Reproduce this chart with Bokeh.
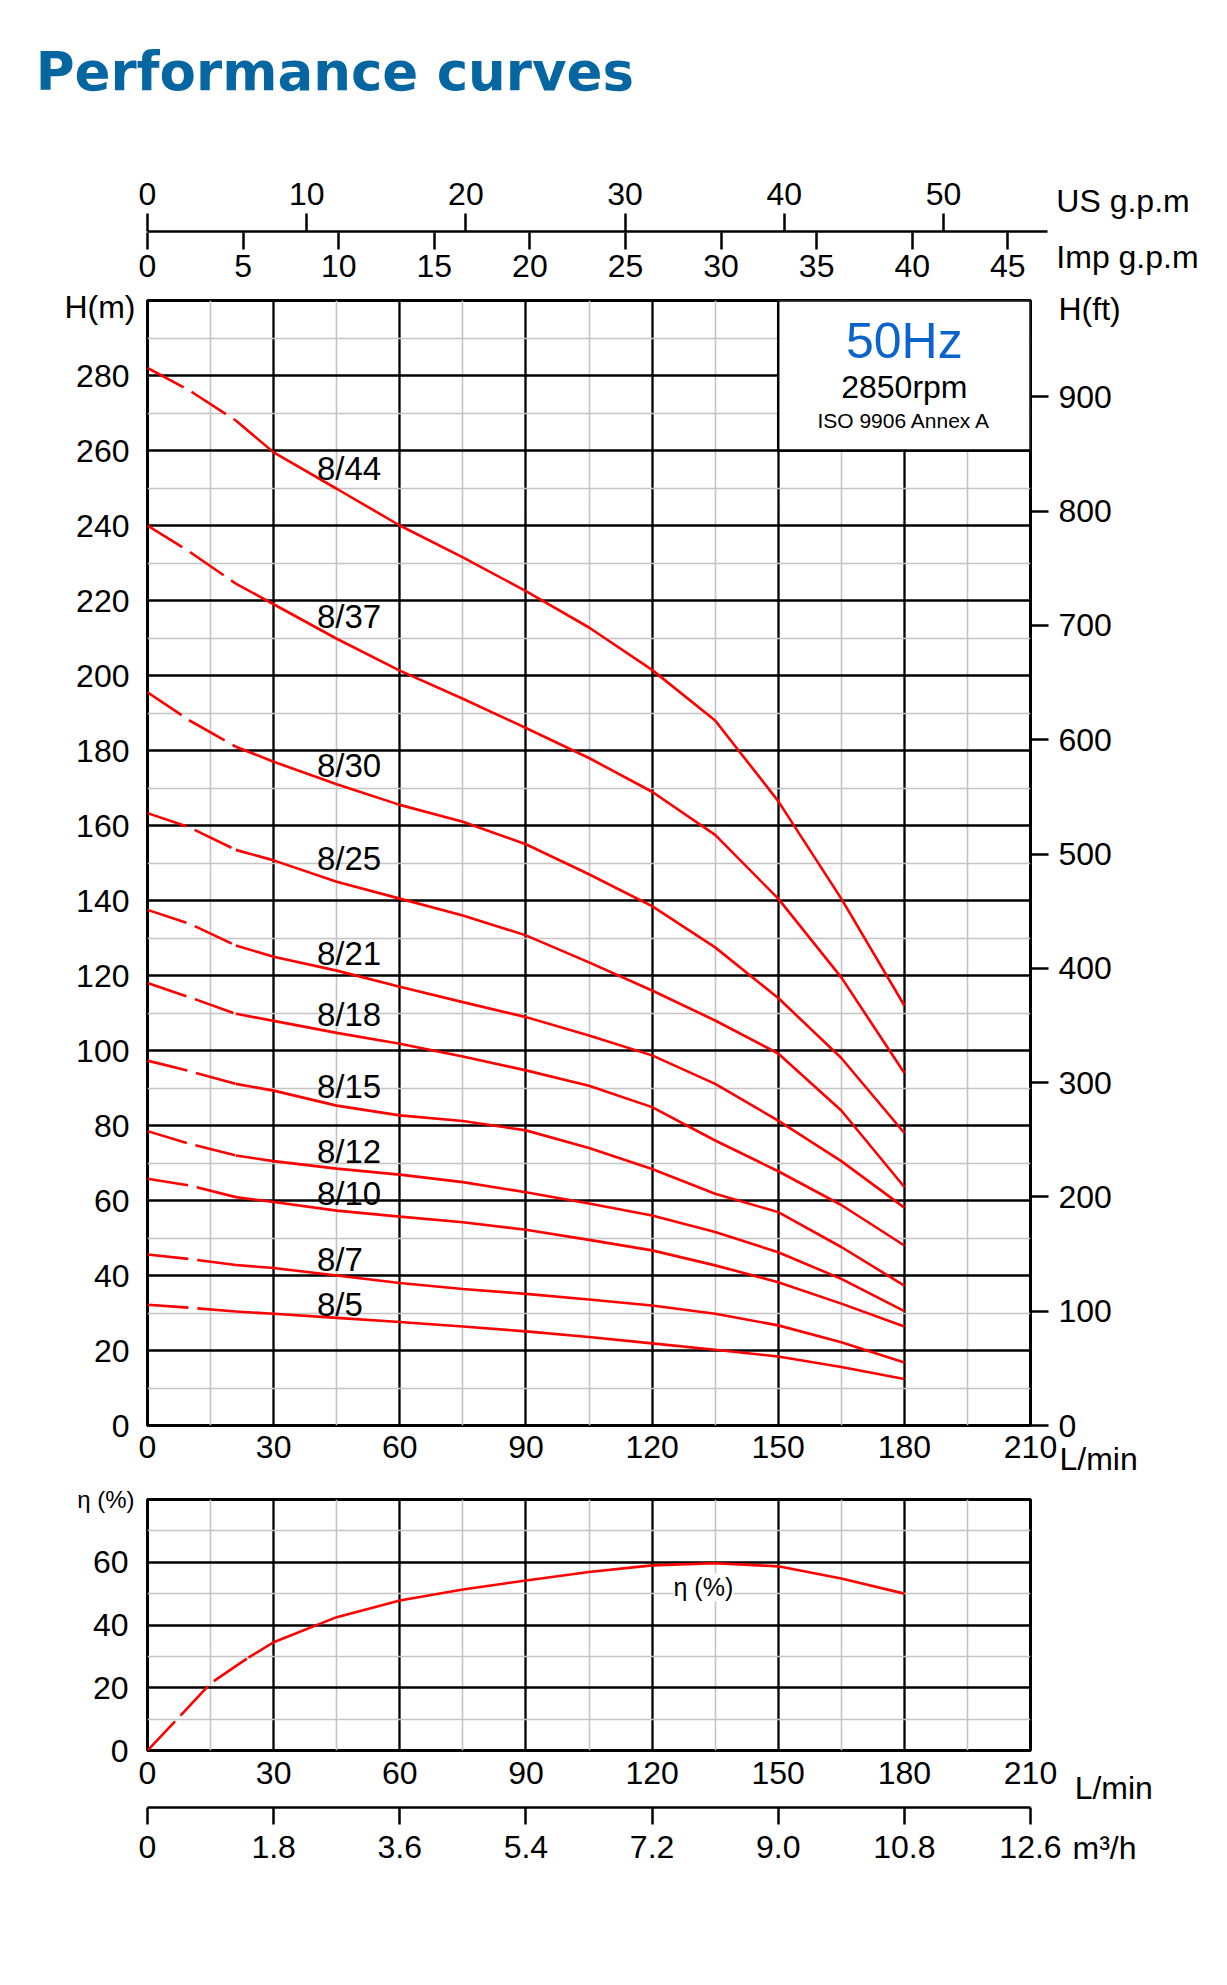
from bokeh.plotting import figure
from bokeh.models import Range1d, LinearAxis, FixedTicker, Label, LabelSet, ColumnDataSource
from bokeh.layouts import column
from bokeh.embed import file_html
from bokeh.resources import INLINE
from bokeh.core.properties import value

FONT = "Liberation Sans"
RED = "#ff0000"

# ---------------- data ----------------
flow = [0, 10, 21, 30, 45, 60, 75, 90, 105, 120, 135, 150, 165, 180]   # L/min
n_dash = 3   # first points (0..21 L/min) are drawn dashed

h_8_44 = [282, 276, 268, 259.5, 249.8, 240, 231.5, 222.5, 212.8, 201.5, 188, 166.5, 140.5, 112]
h_8_37 = [240, 233, 224.5, 219, 209.8, 201.3, 193.8, 186, 178, 169, 157.5, 140.5, 119.5, 94]
h_8_30 = [195.5, 188, 181, 177, 171, 165.5, 161, 155, 147, 138.5, 127.5, 114, 98, 78]
h_8_25 = [163.3, 159.5, 153.5, 150.7, 145, 140.5, 136, 130.7, 123.5, 116, 108, 99.2, 84, 63.6]
h_8_21 = [137.5, 133.8, 128, 125, 121.3, 117, 112.9, 108.9, 104, 98.7, 91.1, 81.3, 70.5, 58.1]
h_8_18 = [118, 114.2, 109.8, 107.9, 104.7, 101.8, 98.4, 94.7, 90.6, 84.9, 76, 67.8, 58.8, 48]
h_8_15 = [97.3, 94.5, 91.1, 89.3, 85.3, 82.7, 81.2, 78.7, 74, 68.4, 61.8, 56.9, 47.6, 37.3]
h_8_12 = [78.5, 75.1, 72, 70.5, 68.5, 66.9, 64.9, 62.2, 59.2, 56, 51.6, 46.2, 39.1, 30.5]
h_8_10 = [65.8, 64, 60.9, 59.6, 57.3, 55.7, 54.2, 52.2, 49.5, 46.7, 42.7, 38.2, 32.5, 26.4]
h_8_7 = [45.6, 44.4, 42.8, 42, 40, 38, 36.4, 35.1, 33.6, 32, 29.8, 26.7, 22.2, 16.8]
h_8_5 = [32.2, 31.4, 30.4, 29.8, 28.7, 27.6, 26.4, 25.1, 23.6, 21.9, 20.2, 18.4, 15.6, 12.4]

models = ["8/44", "8/37", "8/30", "8/25", "8/21", "8/18", "8/15", "8/12", "8/10", "8/7", "8/5"]
heads = [h_8_44, h_8_37, h_8_30, h_8_25, h_8_21, h_8_18, h_8_15, h_8_12, h_8_10, h_8_7, h_8_5]
label_q = [40.3] * len(models)
label_h = [255.3, 215.7, 175.9, 151.1, 126, 109.6, 90.4, 73.1, 62, 44.3, 32.3]

eff_flow = [0, 7.5, 15, 24, 30, 45, 60, 75, 90, 105, 120, 135, 150, 165, 180]
eff = [0, 10.6, 21.4, 29.6, 34.5, 42.5, 47.8, 51.3, 54.2, 56.9, 59, 59.7, 58.7, 54.8, 50]
eff_dash = 4

q_ticks = [0, 30, 60, 90, 120, 150, 180, 210]
q_minor = [15, 45, 75, 105, 135, 165, 195]
h_ticks = [0, 20, 40, 60, 80, 100, 120, 140, 160, 180, 200, 220, 240, 260, 280]
h_minor = [10, 30, 50, 70, 90, 110, 130, 150, 170, 190, 210, 230, 250, 270, 290]
ft_ticks = [0, 100, 200, 300, 400, 500, 600, 700, 800, 900]
ft_title_pos = 977          # where the "H(ft)" caption sits on the ft scale
eff_ticks = [0, 20, 40, 60]
eff_minor = [10, 30, 50, 70]
us_ticks = [0, 10, 20, 30, 40, 50]
imp_ticks = [0, 5, 10, 15, 20, 25, 30, 35, 40, 45]
m3h_ticks = [0, 1.8, 3.6, 5.4, 7.2, 9.0, 10.8, 12.6]
m3h_labels = ["0", "1.8", "3.6", "5.4", "7.2", "9.0", "10.8", "12.6"]

box_q = [150, 210]
box_h = [260, 300]

LMIN_PER_USGPM = 3.785411784
LMIN_PER_IMPGPM = 4.54609
M_PER_FT = 0.3048
TOP_Q_MAX = 214

TS = "32px"
LEFT = 147


def base_fig(**kw):
    return figure(output_backend="svg", toolbar_location=None,
                  background_fill_color="white", border_fill_color="white", **kw)


def style_axis(ax, standoff):
    ax.major_label_text_font = FONT
    ax.major_label_text_font_size = TS
    ax.major_label_text_color = "black"
    ax.minor_tick_line_color = None
    ax.major_label_standoff = standoff


def style_grid(fig, xt, xm, yt, ym):
    fig.xgrid.ticker = FixedTicker(ticks=xt, minor_ticks=xm)
    fig.ygrid.ticker = FixedTicker(ticks=yt, minor_ticks=ym)
    for g in (fig.xgrid, fig.ygrid):
        g.grid_line_color = "black"
        g.grid_line_width = 2.3
        g.grid_line_alpha = 1
        g.minor_grid_line_color = "#c4c4c4"
        g.minor_grid_line_width = 1.6


def txt(text, x, y, size=TS, align="left", **kw):
    return Label(x=x, y=y, text=text, text_font=kw.pop("font", FONT), text_font_size=size,
                 text_align=align, text_baseline="middle", text_color=kw.pop("color", "black"),
                 **kw)


# ---------------- header (flow unit axes + title) ----------------
hd = base_fig(frame_width=900, frame_height=1,
              x_range=Range1d(0, TOP_Q_MAX), y_range=Range1d(0, 1),
              x_axis_location=None, y_axis_location=None,
              min_border_left=LEFT, min_border_right=161,
              min_border_top=231, min_border_bottom=57)
hd.outline_line_color = None
hd.grid.visible = False
hd.extra_x_ranges = {"us": Range1d(0, TOP_Q_MAX / LMIN_PER_USGPM),
                     "imp": Range1d(0, TOP_Q_MAX / LMIN_PER_IMPGPM)}
us_ax = LinearAxis(x_range_name="us", ticker=FixedTicker(ticks=us_ticks),
                   major_tick_out=18, major_tick_in=0, major_tick_line_width=2.5,
                   axis_line_width=2.5)
style_axis(us_ax, 9)
hd.add_layout(us_ax, "above")
imp_ax = LinearAxis(x_range_name="imp", ticker=FixedTicker(ticks=imp_ticks),
                    major_tick_out=17, major_tick_in=0, major_tick_line_width=2.5,
                    axis_line_color=None)
style_axis(imp_ax, 5)
hd.add_layout(imp_ax, "below")
hd.add_layout(txt("Performance curves", -26.6, 161, size="53px",
                  font="DejaVu Sans", text_font_style="bold", color="#0566a1"), "above")
hd.add_layout(txt("US g.p.m", 216.1, 32), "above")
hd.add_layout(txt("Imp g.p.m", 216.1, -24.5), "right")

# ---------------- main H-Q chart ----------------
p = base_fig(frame_width=883, frame_height=1125,
             x_range=Range1d(0, 210), y_range=Range1d(0, 300),
             min_border_left=LEFT, min_border_right=178,
             min_border_top=11, min_border_bottom=53)
p.outline_line_color = "black"
p.outline_line_width = 3
p.extra_y_ranges = {"ft": Range1d(0, 300 / M_PER_FT)}
style_grid(p, q_ticks, q_minor, h_ticks, h_minor)

xa = p.xaxis[0]
xa.ticker = FixedTicker(ticks=q_ticks)
xa.major_tick_line_color = None
xa.axis_line_color = None
style_axis(xa, 4)
ya = p.yaxis[0]
ya.ticker = FixedTicker(ticks=h_ticks)
ya.major_tick_line_color = None
ya.axis_line_color = None
style_axis(ya, 12)

ft_ax = LinearAxis(y_range_name="ft",
                   ticker=FixedTicker(ticks=ft_ticks + [ft_title_pos], minor_ticks=ft_ticks),
                   major_tick_out=18, major_tick_in=0, major_tick_line_color=None,
                   axis_line_color=None,
                   major_label_overrides={ft_title_pos: "H(ft)"})
style_axis(ft_ax, 10)
ft_ax.minor_tick_line_color = "black"
ft_ax.minor_tick_line_width = 2.5
ft_ax.minor_tick_out = 18
ft_ax.minor_tick_in = 0
p.add_layout(ft_ax, "right")

# white info box
p.quad(left=[box_q[0]], right=[box_q[1]], bottom=[box_h[0]], top=[box_h[1]],
       fill_color="white", line_color="black", line_width=2.5)

for hv in heads:
    p.line(flow[:n_dash], hv[:n_dash], line_color=RED, line_width=2.6, line_dash="41 9")
    p.line(flow[n_dash - 1:], hv[n_dash - 1:], line_color=RED, line_width=2.6)

src = ColumnDataSource(dict(x=label_q, y=label_h, t=models))
p.add_layout(LabelSet(x="x", y="y", text="t", source=src, text_font=value(FONT),
                      text_font_size=value("33px"), text_color="black",
                      text_baseline="middle"))

p.add_layout(txt("50Hz", 180, 289.3, size="50px", align="center", color="#0b64cc"))
p.add_layout(txt("2850rpm", 180, 276.9, size="32px", align="center"))
p.add_layout(txt("ISO 9906 Annex A", 180, 267.9, size="21px", align="center"))
p.add_layout(txt("H(m)", -2.85, 298.4, align="right"), "left")
p.add_layout(txt("L/min", 216.9, -8.8), "right")

# ---------------- efficiency chart ----------------
e = base_fig(frame_width=883, frame_height=251,
             x_range=Range1d(0, 210), y_range=Range1d(0, 80),
             min_border_left=LEFT, min_border_right=178,
             min_border_top=21, min_border_bottom=55)
e.outline_line_color = "black"
e.outline_line_width = 3
style_grid(e, q_ticks, q_minor, eff_ticks, eff_minor)
ex = e.xaxis[0]
ex.ticker = FixedTicker(ticks=q_ticks)
ex.major_tick_line_color = None
ex.axis_line_color = None
style_axis(ex, 5)
ey = e.yaxis[0]
ey.ticker = FixedTicker(ticks=eff_ticks)
ey.major_tick_line_color = None
ey.axis_line_color = None
style_axis(ey, 13)

e.line(eff_flow[:eff_dash], eff[:eff_dash], line_color=RED, line_width=2.6, line_dash="40 8")
e.line(eff_flow[eff_dash - 1:], eff[eff_dash - 1:], line_color=RED, line_width=2.6)

e.add_layout(txt("η (%)", 132.2, 52, size="25px", align="center",
                 background_fill_color="white"))
e.add_layout(txt("η (%)", -3.1, 80, size="24px", align="right"), "left")
e.add_layout(txt("L/min", 220.5, -11.8), "right")

# ---------------- m3/h axis ----------------
m = base_fig(frame_width=883, frame_height=1,
             x_range=Range1d(0, 12.6), y_range=Range1d(0, 1),
             x_axis_location=None, y_axis_location=None,
             min_border_left=LEFT, min_border_right=178,
             min_border_top=1, min_border_bottom=76)
m.outline_line_color = None
m.grid.visible = False
m_ax = LinearAxis(ticker=FixedTicker(ticks=m3h_ticks),
                  major_tick_out=17, major_tick_in=0, major_tick_line_width=2.5,
                  axis_line_width=2.5,
                  major_label_overrides={t: s for t, s in zip(m3h_ticks, m3h_labels)})
style_axis(m_ax, 11)
m.add_layout(m_ax, "below")
m.add_layout(txt("m³/h", 13.2, -40.5), "right")

layout = column(hd, p, e, m, spacing=0)
open("out.html", "w").write(file_html(layout, INLINE))
